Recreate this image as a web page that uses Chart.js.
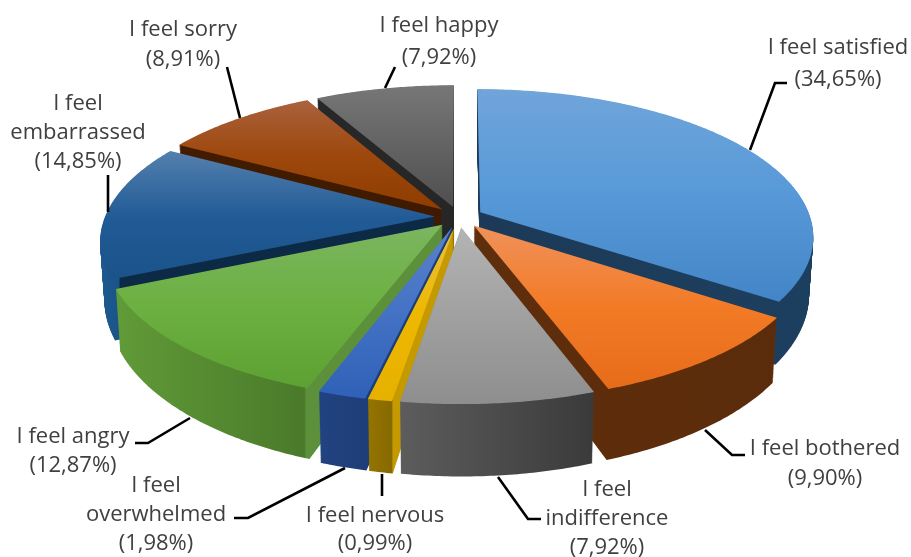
<!DOCTYPE html>
<html>
<head>
<meta charset="utf-8">
<style>
html, body { margin: 0; padding: 0; background: #fff; }
#feelingsChart { display: block; filter: blur(0.5px); }
</style>
<script src="https://cdn.jsdelivr.net/npm/chart.js@4"></script>
</head>
<body>
<canvas id="feelingsChart" width="911" height="557"></canvas>
<script>
// Chart data
const categories = ['I feel satisfied', 'I feel bothered', 'I feel indifference', 'I feel nervous', 'I feel overwhelmed', 'I feel angry', 'I feel embarrassed', 'I feel sorry', 'I feel happy'];
const shares = [34.65, 9.90, 7.92, 0.99, 1.98, 12.87, 14.85, 8.91, 7.92];

// Colours: top face goes from first to last stop vertically, walls horizontally
const baseColors = ['#5b9bd5', '#ed7d31', '#a5a5a5', '#ffc000', '#4472c4', '#70ad47', '#255e91', '#9e480e', '#636363'];
const topFaces = [
    [89, 300, ['#70a5da', '#5799d8', '#4385c6']],
    [228, 389, ['#f0915a', '#f27a25', '#e76c1a']],
    [228, 405, ['#b4b4b4', '#a0a0a0', '#8e8e8e']],
    [228, 402, ['#e8c040', '#eeb800', '#e6b000']],
    [228, 395, ['#5a82cc', '#4472c4', '#2f62b8']],
    [226, 390, ['#7cb560', '#6bb040', '#5da033']],
    [150, 285, ['#5580ae', '#215b96', '#1a5288']],
    [100, 207, ['#ab623e', '#9e480e', '#8f3d00']],
    [85, 205, ['#777777', '#636363', '#505050']]
];
const wallFaces = [
    [480, 815, [[0, '#1c3a57'], [1, '#1d3f5f']]],
    [470, 780, [[0, '#5f2e0c'], [1, '#5b2c0b']]],
    [402, 595, [[0, '#5c5c5c'], [1, '#3a3a3a']]],
    [369, 402, [[0, '#947400'], [0.7, '#866900'], [0.72, '#c49a00'], [1, '#c49a00']]],
    [320, 369, [[0, '#21437f'], [1, '#1e3d78']]],
    [118, 325, [[0, '#619a38'], [0.9, '#4a7a2a'], [0.91, '#5c903a'], [1, '#5c903a']]],
    [100, 440, [[0, '#1c5a90'], [0.055, '#1b5488'], [0.06, '#0c2a45'], [1, '#0c2a45']]],
    [180, 445, [[0, '#421c00'], [1, '#401a00']]],
    [318, 455, [[0, '#282828'], [1, '#262626']]]
];

// Label layout
const labelLines = [
    ['I feel satisfied'], ['I feel bothered'], ['I feel', 'indifference'], ['I feel nervous'],
    ['I feel', 'overwhelmed'], ['I feel angry'], ['I feel', 'embarrassed'], ['I feel sorry'], ['I feel happy']
];
const labelAnchors = [[838, 54], [825, 455], [607, 496], [375, 522], [156, 492], [73, 443], [78, 110], [183, 36], [439, 32]];
const labelSteps = [32, 30, 29, 28, 29, 29, 29, 30, 32];
const leaders = [
    [[750, 150], [775, 83], [787, 83]],
    [[705, 430], [732, 455], [745, 455]],
    [[498, 477], [528, 519], [541, 519]],
    [[382, 474], [382, 496]],
    [[345, 468], [248, 518], [234, 518]],
    [[190, 418], [148, 443], [135, 443]],
    [[108, 212], [108, 175]],
    [[240, 118], [227, 67]],
    [[385, 88], [395, 67]]
];

// Perspective of the flat pie
const view = { cx: 459, cy: 217, rx: 330, ry: 144.3, tilt: 0.161, explode: 0.073, depthLayers: 70 };

function toScreen(u, v, t) {
    const w = 1 - view.tilt * v;
    const sx = view.cx + view.rx * u / w;
    const sy = view.cy + view.ry * v / w;
    // bottom face is further away, everything shrinks towards the vanishing point
    return [view.cx + (sx - view.cx) * (1 - 0.012 * t), sy + t * (0.09 * sy + 36)];
}

// Small context that arc.draw() can use, it flattens the arcs through toScreen
function projectedContext(ctx, arc, t) {
    const mid = (arc.startAngle + arc.endAngle) / 2;
    const R = arc.outerRadius;
    const ox = view.explode * Math.cos(mid);
    const oy = view.explode * Math.sin(mid);
    const put = (x, y) => {
        const p = toScreen((x - arc.x) / R + ox, (y - arc.y) / R + oy, t);
        ctx.lineTo(p[0], p[1]);
    };
    return {
        save() { ctx.save(); },
        restore() { ctx.restore(); },
        translate() {},
        setLineDash() {},
        beginPath() { ctx.beginPath(); },
        closePath() { ctx.closePath(); },
        fill() { ctx.fill(); },
        stroke() {},
        moveTo: put,
        lineTo: put,
        arc(x, y, r, a0, a1, ccw) {
            if (!(r > 0) || !isFinite(a0) || !isFinite(a1)) { put(x, y); return; }
            const n = Math.max(2, Math.ceil(Math.abs(a1 - a0) / 0.01));
            for (let i = 0; i <= n; i++) {
                const a = a0 + (a1 - a0) * i / n;
                put(x + r * Math.cos(a), y + r * Math.sin(a));
            }
        },
        set fillStyle(v) {},
        set strokeStyle(v) {}
    };
}

function verticalGradient(ctx, face) {
    const g = ctx.createLinearGradient(0, face[0], 0, face[1]);
    face[2].forEach((c, i) => g.addColorStop(i / (face[2].length - 1), c));
    return g;
}

function horizontalGradient(ctx, face) {
    const g = ctx.createLinearGradient(face[0], 0, face[1], 0);
    face[2].forEach(s => g.addColorStop(s[0], s[1]));
    return g;
}

const pie3d = {
    id: 'pie3d',
    beforeDatasetsDraw(chart) {
        const ctx = chart.ctx;
        const arcs = chart.getDatasetMeta(0).data;
        // back slices first
        const order = arcs.map((a, i) => i).sort((a, b) =>
            Math.sin((arcs[a].startAngle + arcs[a].endAngle) / 2) - Math.sin((arcs[b].startAngle + arcs[b].endAngle) / 2));
        order.forEach(i => {
            ctx.fillStyle = horizontalGradient(ctx, wallFaces[i]);
            for (let l = view.depthLayers; l > 0; l--) {
                arcs[i].draw(projectedContext(ctx, arcs[i], l / view.depthLayers));
            }
            ctx.fillStyle = verticalGradient(ctx, topFaces[i]);
            arcs[i].draw(projectedContext(ctx, arcs[i], 0));
        });
        return false;
    },
    afterDraw(chart) {
        const ctx = chart.ctx;
        ctx.save();
        ctx.strokeStyle = '#000';
        ctx.lineWidth = 2.6;
        leaders.forEach(line => {
            ctx.beginPath();
            line.forEach((p, k) => k ? ctx.lineTo(p[0], p[1]) : ctx.moveTo(p[0], p[1]));
            ctx.stroke();
        });
        ctx.fillStyle = '#404040';
        ctx.font = '22px "Open Sans"';
        ctx.textAlign = 'center';
        shares.forEach((s, i) => {
            const lines = labelLines[i].concat('(' + s.toFixed(2).replace('.', ',') + '%)');
            lines.forEach((text, k) => ctx.fillText(text, labelAnchors[i][0], labelAnchors[i][1] + k * labelSteps[i]));
        });
        ctx.restore();
    }
};

new Chart(document.getElementById('feelingsChart').getContext('2d'), {
    type: 'pie',
    data: {
        labels: categories,
        datasets: [{ data: shares, backgroundColor: baseColors, borderWidth: 0 }]
    },
    options: {
        responsive: false,
        animation: false,
        events: [],
        plugins: { legend: { display: false }, tooltip: { enabled: false } }
    },
    plugins: [pie3d]
});
</script>
</body>
</html>
